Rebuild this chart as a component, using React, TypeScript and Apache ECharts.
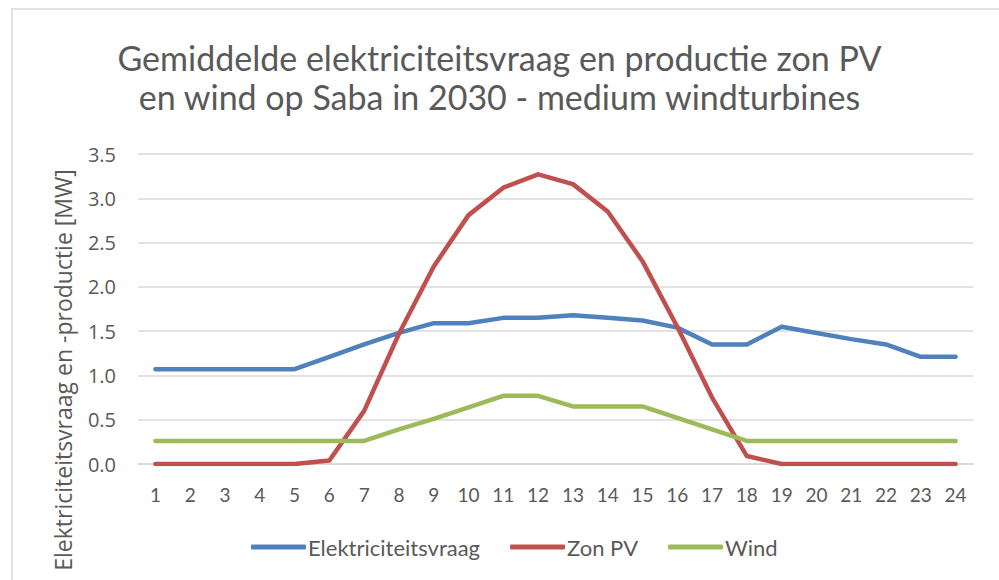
import React, { useEffect, useRef } from "react";
import * as echarts from "echarts";

const hours = ["1","2","3","4","5","6","7","8","9","10","11","12","13","14","15","16","17","18","19","20","21","22","23","24"];
const vraag = [1.07,1.07,1.07,1.07,1.07,1.21,1.35,1.48,1.59,1.59,1.65,1.65,1.68,1.65,1.62,1.54,1.35,1.35,1.55,1.48,1.41,1.35,1.21,1.21];
const zonPV = [0,0,0,0,0,0.04,0.6,1.47,2.23,2.81,3.12,3.27,3.16,2.85,2.29,1.55,0.75,0.09,0,0,0,0,0,0];
const wind = [0.26,0.26,0.26,0.26,0.26,0.26,0.26,0.39,0.51,0.64,0.77,0.77,0.65,0.65,0.65,0.52,0.39,0.26,0.26,0.26,0.26,0.26,0.26,0.26];
const seriesNames = ["Elektriciteitsvraag", "Zon PV", "Wind"];
const colors = ["#4f81bd", "#c0504d", "#9bbb59"];
const titleText = "Gemiddelde elektriciteitsvraag en productie zon PV\nen wind op Saba in 2030 - medium windturbines";
const yAxisTitle = "Elektriciteitsvraag en -productie [MW]";

const narrow = "Lato, sans-serif";
const wide = "'Open Sans', sans-serif";

export default function App() {
  const ref = useRef<HTMLDivElement>(null);
  useEffect(() => {
    if (!ref.current) return;
    const chart = echarts.init(ref.current, null, { renderer: "svg" });
    const data = [vraag, zonPV, wind];
    chart.setOption({
      animation: false,
      backgroundColor: "#ffffff",
      color: colors,
      title: {
        text: titleText,
        left: "center",
        top: 33,
        textStyle: { fontFamily: narrow, fontSize: 34, fontWeight: "normal", color: "#595959", lineHeight: 39 },
      },
      graphic: [
        {
          type: "rect",
          shape: { x: 12, y: 9, width: 1100, height: 700 },
          style: { fill: "none", stroke: "#d9d9d9", lineWidth: 1.5 },
          silent: true,
        },
        {
          type: "text",
          x: 63,
          y: 370,
          rotation: Math.PI / 2,
          style: {
            text: yAxisTitle,
            fontFamily: wide,
            fontSize: 23,
            fill: "#595959",
            textAlign: "center",
            textVerticalAlign: "middle",
          },
        },
      ],
      legend: {
        bottom: 17,
        left: 246,
        itemWidth: 55,
        itemHeight: 5,
        itemGap: 30,
        icon: "roundRect",
        textStyle: { fontFamily: narrow, fontSize: 22, color: "#595959", padding: [0, 0, 0, -3] },
        data: seriesNames,
      },
      grid: { left: 138, right: 26, top: 154, bottom: 116 },
      xAxis: {
        type: "category",
        data: hours,
        boundaryGap: true,
        axisLine: { lineStyle: { color: "#d9d9d9", width: 1.5 } },
        axisTick: { show: false },
        axisLabel: { color: "#595959", fontFamily: narrow, fontSize: 19, margin: 21 },
      },
      yAxis: {
        type: "value",
        min: 0,
        max: 3.5,
        interval: 0.5,
        axisLine: { show: false },
        axisTick: { show: false },
        splitLine: { lineStyle: { color: "#d9d9d9", width: 1.5 } },
        axisLabel: {
          color: "#595959",
          fontFamily: wide,
          fontSize: 20,
          margin: 22,
          formatter: (v: number) => v.toFixed(1),
        },
      },
      series: seriesNames.map((name, i) => ({
        name,
        type: "line",
        data: data[i],
        symbol: "none",
        lineStyle: { width: 4.5, color: colors[i], cap: "round", join: "round" },
        itemStyle: { color: colors[i] },
      })),
    });
    return () => chart.dispose();
  }, []);
  return (
    <div
      ref={ref}
      style={{ position: "fixed", left: 0, top: 0, width: 999, height: 580 }}
    />
  );
}
